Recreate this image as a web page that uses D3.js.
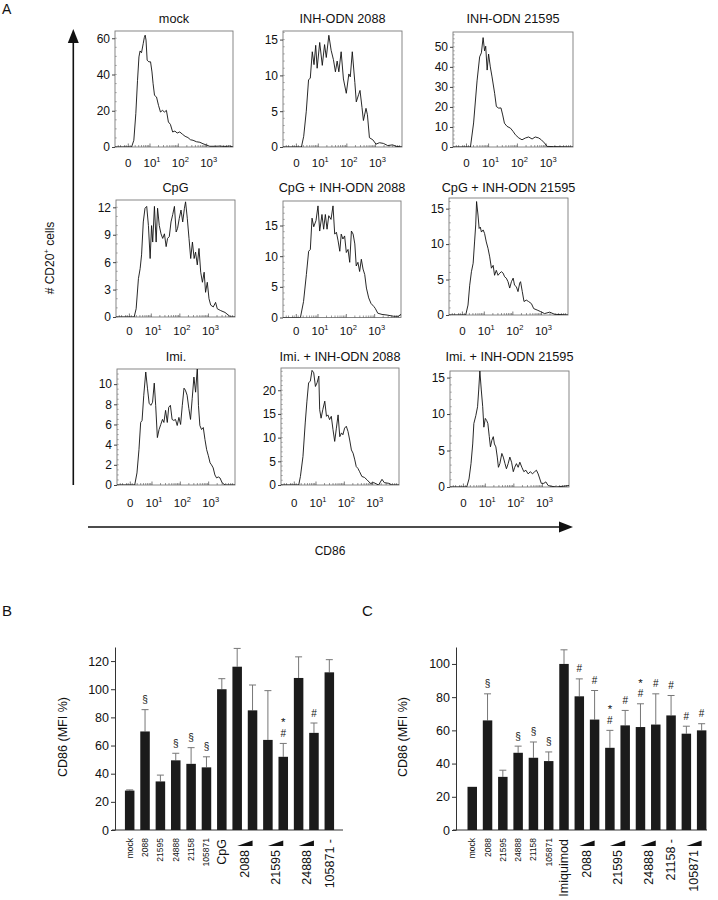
<!DOCTYPE html>
<html>
<head>
<meta charset="utf-8">
<script src="https://cdn.jsdelivr.net/npm/d3@7"></script>
<style>
  body { margin: 0; background: #fff; }
  text { font-family: "Liberation Sans", Arial, Helvetica, sans-serif; fill: #111; }
</style>
</head>
<body>
<svg id="fig" width="718" height="900"></svg>
<script>
// ---- panel A: CD86 histograms (x in decades of the logicle axis, y = cell count) ----
var histTitles = ["mock", "INH-ODN 2088", "INH-ODN 21595",
                  "CpG", "CpG + INH-ODN 2088", "CpG + INH-ODN 21595",
                  "Imi.", "Imi. + INH-ODN 2088", "Imi. + INH-ODN 21595"];

var mockX = [-0.235,0.35,0.43,0.5,0.56,0.61,0.65,0.7,0.76,0.8,0.83,0.86,0.9,0.96,1.02,1.07,1.11,1.16,1.23,1.3,1.37,1.44,1.51,1.58,1.65,1.72,1.8,1.88,1.96,2.05,2.15,2.24,2.34,2.43,2.52,2.64,2.76,2.87,2.99,3.11,3.29,3.46,3.64,3.81,3.93];
var mockY = [0,0,3.7,18.4,36.8,49.7,53,52,57,60.4,61.7,59,47.9,47,47,41.4,34.9,28.5,27.6,23,19.3,20.2,19.3,20.2,13.8,12.5,8.3,8.8,7.7,8.3,7,5.9,5.2,4,3.7,2.9,2.6,1.8,1.1,0.4,0.4,0.5,0.3,0.5,0];

var inh2088X = [-0.235,0.41,0.49,0.58,0.66,0.72,0.79,0.85,0.91,0.96,1.05,1.14,1.22,1.28,1.37,1.45,1.53,1.6,1.66,1.72,1.8,1.88,1.98,2.07,2.12,2.19,2.28,2.33,2.41,2.46,2.53,2.58,2.67,2.72,2.79,2.91,3.02,3.14,3.28,3.43,3.6,3.72,3.93];
var inh2088Y = [0,0,1.5,5,9.4,9.6,13.3,11.5,14.2,11,14.6,11.4,14.3,12.5,15.6,13.5,12.2,10.5,12,10.5,13.3,9.5,7.5,10.2,9.8,13.3,9,6.3,7.3,7.9,5.5,3.7,5.4,4.5,1.3,1,0.4,0.6,0.5,0.2,0.3,0.1,0];

var inh21595X = [-0.235,0.37,0.48,0.6,0.69,0.75,0.81,0.86,0.9,0.95,1.0,1.06,1.12,1.21,1.27,1.35,1.43,1.49,1.55,1.64,1.76,1.85,1.93,2.05,2.16,2.28,2.39,2.51,2.62,2.74,2.83,2.94,3.03,3.26,3.93];
var inh21595Y = [0,0,12,33,45,47,54.6,48,50.3,38.4,46.4,40,35,26.8,20.2,19.4,19.5,16,11.9,10.3,9.4,7.8,6.1,4.5,3.6,4.5,5,4,5,4.5,3.6,2,0.3,0.2,0];

var cpgX = [-0.235,0.4,0.47,0.55,0.61,0.66,0.72,0.78,0.84,0.9,0.96,1.01,1.05,1.11,1.17,1.22,1.28,1.34,1.4,1.46,1.52,1.57,1.63,1.69,1.75,1.81,1.87,1.92,1.98,2.04,2.1,2.16,2.2,2.26,2.32,2.38,2.44,2.5,2.55,2.61,2.67,2.73,2.79,2.85,2.9,2.96,3.02,3.08,3.17,3.25,3.31,3.43,3.58,3.7,3.78,3.93];
var cpgY = [0,0,0.9,4.2,5.3,6.8,10.4,11.9,12.1,10,6.4,10,8.2,12.1,8.2,11.9,10,9.1,8.6,9.1,7.7,8.6,8.8,10.4,11.2,12.1,9.3,9.7,10.8,11.7,10.4,11.9,12.6,10.8,8.6,6.4,8.2,6.4,7.1,5.7,7.5,4.9,3.8,4.9,2.7,3.8,2,1.3,1.1,1.6,0.9,0.7,0.5,0.2,0,0];

var cpg2088X = [-0.235,0.38,0.49,0.59,0.67,0.73,0.79,0.85,0.93,1.0,1.06,1.14,1.2,1.26,1.32,1.38,1.46,1.53,1.59,1.65,1.71,1.77,1.82,1.88,1.94,2.0,2.06,2.12,2.18,2.24,2.3,2.35,2.41,2.47,2.53,2.59,2.65,2.71,2.79,2.87,2.97,3.02,3.11,3.26,3.44,3.67,3.85,3.91,3.93];
var cpg2088Y = [0,0,2.6,7,10.8,11.1,16.2,14.8,15.8,18.2,14.1,16.8,14.4,16.8,14.4,16.6,16,18.2,13.6,13.9,12.5,10.8,13.6,12.8,13.3,10.6,11.1,9,14.1,13.6,12,8.4,9,7.5,9.5,7.9,7,4.8,3.2,2.3,1.8,1.5,0.7,0.5,0.4,0.2,0.2,0.5,0.3];

var cpg21595X = [-0.235,0.35,0.43,0.49,0.55,0.61,0.66,0.7,0.73,0.78,0.82,0.86,0.9,0.96,1.01,1.07,1.13,1.19,1.25,1.31,1.36,1.42,1.48,1.54,1.6,1.66,1.71,1.77,1.83,1.89,1.95,2.01,2.06,2.12,2.18,2.24,2.27,2.33,2.39,2.47,2.55,2.65,2.73,2.85,2.96,3.11,3.29,3.46,3.93];
var cpg21595Y = [0,0,1.4,4.2,6.1,7.3,10.3,12.7,16,14.1,12.2,12.4,11.7,12,11.5,10.3,9.4,8.2,6.6,7,5.6,6.3,5.6,5.9,6.1,5.9,5.4,5.2,4.7,3.8,4.7,5.2,4.2,4,3.3,4.5,4.7,3.3,1.9,2.1,1.9,1.6,0.9,0.7,0.5,0.2,0.4,0.1,0];

var imiX = [-0.235,0.39,0.47,0.54,0.6,0.65,0.71,0.78,0.84,0.9,0.96,1.02,1.08,1.13,1.19,1.25,1.31,1.37,1.42,1.48,1.54,1.59,1.65,1.71,1.77,1.83,1.89,1.95,2.01,2.07,2.13,2.18,2.24,2.3,2.36,2.42,2.48,2.54,2.6,2.64,2.69,2.75,2.81,2.87,2.93,2.99,3.05,3.1,3.16,3.22,3.28,3.34,3.4,3.48,3.58,3.93];
var imiY = [0,0,1.2,3.5,6.2,6.4,8.9,11.2,9.6,8.1,7.9,8.2,10.1,7.9,4.7,5.5,6,6.5,6.2,7.4,6.2,7.7,7.9,6.5,6.4,6.5,5.9,6.7,6,7.9,9.6,9.4,8.9,7.6,6.5,8.6,10.7,9.2,11.7,7.9,5.9,5.5,5.7,4.5,3.5,2.9,2.2,2,1.7,1,0.7,0.8,0.7,0.2,0,0];

var imi2088X = [-0.235,0.39,0.45,0.54,0.62,0.68,0.74,0.8,0.86,0.92,0.98,1.04,1.1,1.13,1.18,1.24,1.31,1.37,1.42,1.48,1.54,1.6,1.66,1.72,1.78,1.84,1.9,1.95,2.01,2.07,2.13,2.19,2.25,2.31,2.37,2.42,2.48,2.54,2.62,2.71,2.8,2.92,3.04,3.21,3.33,3.41,3.57,3.68,3.93];
var imi2088Y = [0,0,1.8,6,13.1,17.7,21.6,21.9,24.2,23.7,20.8,21.6,23,15.9,14.1,15.9,17.7,14.5,14.8,13.8,14.5,11.7,9.2,12,14.8,10.2,11,10.6,12,12.4,11.3,9.5,7.4,6.7,5.3,3.9,3.5,2.8,1.8,1.6,1.1,0.35,0.5,0,1.2,0.5,0.35,0,0];

var imi21595X = [-0.235,0.35,0.43,0.5,0.56,0.6,0.67,0.73,0.77,0.81,0.86,0.91,0.95,1.0,1.05,1.09,1.14,1.18,1.23,1.28,1.32,1.37,1.42,1.46,1.51,1.58,1.63,1.69,1.74,1.8,1.86,1.92,1.98,2.03,2.09,2.15,2.21,2.28,2.35,2.42,2.5,2.58,2.65,2.73,2.79,2.85,2.91,2.96,3.05,3.12,3.2,3.31,3.49,3.72,3.93];
var imi21595Y = [0,0,1.1,3.2,5.9,8.7,9.8,11,13.3,15.9,13.3,11,8.2,9.4,9.1,8.7,6.9,5.5,6.4,6.9,5.9,5.5,4.1,2.7,3.2,4.6,4.1,3.2,2.5,3.2,4.1,3.4,2.1,2.7,3.2,2.7,3.4,2.7,2.1,2.3,1.8,2.1,1.8,2.1,2.3,1.8,1.1,0.5,0.5,0.7,0.2,0.1,0,0.1,0.2];

var histYMax = [64, 16.2, 57.4, 12.8, 19, 16.5, 11.5, 24.7, 15.9];
var histYTicks = [[0,20,40,60],[0,5,10,15],[0,10,20,30,40,50],
                  [0,3,6,9,12],[0,5,10,15],[0,5,10,15],
                  [0,2,4,6,8,10],[0,5,10,15,20],[0,5,10,15]];
var histYMinor = [5, 1, 2, 1, 1, 1, 0.5, 1, 1];

var decTicks = [0.234, 1, 2, 3];
var decLabels = [["0", ""], ["10", "1"], ["10", "2"], ["10", "3"]];

// ---- panels B and C: CD86 MFI (% of stimulus) ----
var valsB = [28, 70, 34.5, 49.5, 47, 44.5, 100, 116, 85, 64, 52, 108, 69, 112];
var sdB   = [0.5, 15.5, 4.5, 5, 11.5, 7.5, 7.5, 13, 18, 35, 9.5, 15, 7, 9];
var marksB = ["", "§", "", "§", "§", "§", "", "", "", "", "#*", "", "#", ""];
var groupsB = [["CpG", 6, 6, false], ["2088", 7, 8, true], ["21595", 9, 10, true],
               ["24888", 11, 12, true], ["105871 -", 13, 13, false]];

var valsC = [26, 66, 32, 46.5, 43.5, 41.5, 100, 80.5, 66.5, 49.5, 63, 62, 63.5, 69, 58, 60];
var sdC   = [0, 16, 4, 4, 9.5, 5.5, 8.5, 10.5, 17.5, 10.5, 9, 14, 18.5, 12, 4.5, 4];
var marksC = ["", "§", "", "§", "§", "§", "", "#", "#", "#*", "#", "#*", "#", "#", "#", "#"];
var groupsC = [["Imiquimod", 6, 6, false], ["2088", 7, 8, true], ["21595", 9, 10, true],
               ["24888", 11, 12, true], ["21158 -", 13, 13, false], ["105871", 14, 15, true]];

var singleLabels = ["mock", "2088", "21595", "24888", "21158", "105871"];

var svg = d3.select("#fig");

// layout of the 3x3 histogram grid
var histBoxes = [
  {L: 115, R: 233, T: 31,  B: 147},
  {L: 283, R: 402, T: 31,  B: 147},
  {L: 453, R: 573, T: 32,  B: 147},
  {L: 116, R: 235, T: 200, B: 317},
  {L: 283, R: 401, T: 201, B: 317.5},
  {L: 449, R: 568, T: 198, B: 315},
  {L: 117, R: 235, T: 369, B: 485},
  {L: 281, R: 399, T: 368, B: 485},
  {L: 450, R: 569, T: 371, B: 487}
];
var histSeries = [[mockX, mockY], [inh2088X, inh2088Y], [inh21595X, inh21595Y],
                  [cpgX, cpgY], [cpg2088X, cpg2088Y], [cpg21595X, cpg21595Y],
                  [imiX, imiY], [imi2088X, imi2088Y], [imi21595X, imi21595Y]];
var titleY = [23, 192, 361];
var tickLabelY = [167, 335, 507];

var defs = svg.append("defs");

histBoxes.forEach(function(b, i) {
  var g = svg.append("g");
  var x = d3.scaleLinear().domain([-0.235, 3.93]).range([b.L, b.R]);
  var y = d3.scaleLinear().domain([0, histYMax[i]]).range([b.B, b.T]);

  defs.append("clipPath").attr("id", "clip" + i)
    .append("rect").attr("x", b.L).attr("y", b.T).attr("width", b.R - b.L).attr("height", b.B - b.T);

  g.append("rect")
    .attr("x", b.L).attr("y", b.T)
    .attr("width", b.R - b.L).attr("height", b.B - b.T)
    .attr("fill", "none").attr("stroke", "#7a7a7a").attr("stroke-width", 0.9);

  // minor ticks along bottom (log decades) and left edge
  var minorX = [];
  [0, 1, 2, 3].forEach(function(dec) {
    for (var k = 2; k <= 9; k++) {
      var v = dec + Math.log10(k);
      if (v > 0.3 && v < 3.9) minorX.push(v);
    }
  });
  minorX = minorX.concat([-0.12, -0.04, 0.1, 0.16]);
  g.selectAll(".mx").data(minorX).enter().append("line")
    .attr("x1", function(d) { return x(d); }).attr("x2", function(d) { return x(d); })
    .attr("y1", b.B).attr("y2", b.B - 2)
    .attr("stroke", "#555").attr("stroke-width", 0.6);
  g.selectAll(".Mx").data(decTicks).enter().append("line")
    .attr("x1", function(d) { return x(d); }).attr("x2", function(d) { return x(d); })
    .attr("y1", b.B).attr("y2", b.B - 3.5)
    .attr("stroke", "#444").attr("stroke-width", 0.7);

  var minorY = d3.range(0, histYMax[i], histYMinor[i]);
  g.selectAll(".my").data(minorY).enter().append("line")
    .attr("x1", b.L).attr("x2", b.L + 1.8)
    .attr("y1", function(d) { return y(d); }).attr("y2", function(d) { return y(d); })
    .attr("stroke", "#666").attr("stroke-width", 0.5);

  var yAxis = g.append("g")
    .attr("transform", "translate(" + b.L + ",0)")
    .call(d3.axisLeft(y).tickValues(histYTicks[i]).tickSize(3).tickSizeOuter(0).tickFormat(d3.format("d")));
  yAxis.select(".domain").remove();
  yAxis.selectAll("line").attr("stroke", "#444");
  yAxis.selectAll("text").attr("font-size", 12).attr("x", -5)
    .style("font-family", '"Liberation Sans", Arial, sans-serif').attr("fill", "#111");

  // decade labels 0, 10^1, 10^2, 10^3
  var row = Math.floor(i / 3);
  decTicks.forEach(function(d, k) {
    var t = g.append("text")
      .attr("x", x(d) + (k === 0 ? 0 : 2)).attr("y", tickLabelY[row])
      .attr("text-anchor", "middle").attr("font-size", 11.5);
    t.append("tspan").text(decLabels[k][0]);
    if (decLabels[k][1]) {
      t.append("tspan").attr("font-size", 7.5).attr("dy", -5).text(decLabels[k][1]);
    }
  });

  var pts = d3.zip(histSeries[i][0], histSeries[i][1]);
  g.append("path")
    .datum(pts)
    .attr("clip-path", "url(#clip" + i + ")")
    .attr("fill", "none").attr("stroke", "#111").attr("stroke-width", 0.9)
    .attr("stroke-linejoin", "round")
    .attr("d", d3.line().x(function(d) { return x(d[0]); }).y(function(d) { return y(d[1]); }));

  g.append("text")
    .attr("x", (b.L + b.R) / 2).attr("y", titleY[row])
    .attr("text-anchor", "middle").attr("font-size", 12.7)
    .text(histTitles[i]);
});

// axis arrows of panel A
svg.append("line").attr("x1", 73.3).attr("x2", 73.3).attr("y1", 485).attr("y2", 40)
  .attr("stroke", "#111").attr("stroke-width", 1.6);
svg.append("path").attr("d", "M73.3,29 L67.8,43 L78.8,43 Z").attr("fill", "#111");
svg.append("line").attr("x1", 88).attr("x2", 562).attr("y1", 527).attr("y2", 527)
  .attr("stroke", "#111").attr("stroke-width", 1.6);
svg.append("path").attr("d", "M573,527 L559,521.5 L559,532.5 Z").attr("fill", "#111");

var ylab = svg.append("text")
  .attr("transform", "translate(54,258) rotate(-90)")
  .attr("text-anchor", "middle").attr("font-size", 12);
ylab.append("tspan").text("# CD20");
ylab.append("tspan").attr("font-size", 8).attr("dy", -5).text("+");
ylab.append("tspan").attr("dy", 5).text(" cells");

svg.append("text").attr("x", 330).attr("y", 555).attr("text-anchor", "middle")
  .attr("font-size", 12).text("CD86");

svg.append("text").attr("x", 2).attr("y", 14).attr("font-size", 14).text("A");
svg.append("text").attr("x", 2).attr("y", 616).attr("font-size", 15).text("B");
svg.append("text").attr("x", 362).attr("y", 616).attr("font-size", 15).text("C");

// ---- bar charts ----
function drawBars(cfg) {
  var g = svg.append("g");
  var n = cfg.vals.length;
  var x = d3.scaleBand().domain(d3.range(n)).range([cfg.x0, cfg.x1])
    .paddingInner(0.38).paddingOuter(0.19);
  var y = d3.scaleLinear().domain([0, cfg.ymax]).range([830, 647]);
  var bw = x.bandwidth();

  var yAxis = g.append("g")
    .attr("transform", "translate(" + cfg.axisX + ",0)")
    .call(d3.axisLeft(y).tickValues(cfg.ticks).tickSize(4).tickSizeOuter(0));
  yAxis.select(".domain").attr("stroke", "#333");
  yAxis.selectAll("line").attr("stroke", "#333");
  yAxis.selectAll("text").attr("font-size", 12.5).attr("x", -6)
    .style("font-family", '"Liberation Sans", Arial, sans-serif').attr("fill", "#111");

  g.append("line").attr("x1", cfg.axisX - 3).attr("x2", cfg.axisEnd)
    .attr("y1", y(0)).attr("y2", y(0)).attr("stroke", "#333").attr("stroke-width", 1);

  // error bars (upper only)
  g.selectAll(".err").data(cfg.vals).enter().append("path")
    .attr("d", function(d, i) {
      var cx = x(i) + bw / 2, top = y(d + cfg.sd[i]);
      if (cfg.sd[i] === 0) return "";
      return "M" + cx + "," + y(d) + "V" + top + "M" + (cx - 3.5) + "," + top + "H" + (cx + 3.5);
    })
    .attr("stroke", "#777").attr("stroke-width", 1).attr("fill", "none");

  g.selectAll(".bar").data(cfg.vals).enter().append("rect")
    .attr("x", function(d, i) { return x(i); })
    .attr("y", function(d) { return y(d); })
    .attr("width", bw)
    .attr("height", function(d) { return y(0) - y(d); })
    .attr("fill", "#1b1b1b");

  // significance marks, stacked upwards
  cfg.marks.forEach(function(m, i) {
    var top = y(cfg.vals[i] + cfg.sd[i]);
    m.split("").forEach(function(ch, k) {
      g.append("text")
        .attr("x", x(i) + bw / 2)
        .attr("y", top - 10 - 12 * k + (ch === "*" ? 5 : 3.5))
        .attr("text-anchor", "middle")
        .attr("font-size", ch === "*" ? 11.5 : 10)
        .attr("fill", ch === "*" ? "#111" : "#555")
        .text(ch);
    });
  });

  // small single-agent labels
  singleLabels.forEach(function(s, i) {
    g.append("text")
      .attr("transform", "translate(" + (x(i) + bw / 2) + ",838) rotate(-90)")
      .attr("text-anchor", "end").attr("dy", "0.35em")
      .attr("font-size", 8.5).text(s);
  });

  // larger group labels with dose wedges
  cfg.groups.forEach(function(gr) {
    var c0 = x(gr[1]) + bw / 2, c1 = x(gr[2]) + bw / 2;
    var cx = (c0 + c1) / 2;
    if (gr[3]) {
      g.append("path")
        .attr("d", "M" + c0 + ",846L" + c1 + ",846L" + c1 + ",840.5Z")
        .attr("fill", "#111");
    }
    g.append("text")
      .attr("transform", "translate(" + cx + "," + (gr[3] ? 850 : 839) + ") rotate(-90)")
      .attr("text-anchor", "end").attr("dy", "0.35em")
      .attr("font-size", 12.5).text(gr[0]);
  });

  g.append("text")
    .attr("transform", "translate(" + cfg.labelX + ",737) rotate(-90)")
    .attr("text-anchor", "middle").attr("font-size", 12.5)
    .text("CD86 (MFI %)");
}

drawBars({vals: valsB, sd: sdB, marks: marksB, groups: groupsB,
          x0: 122, x1: 337, axisX: 115, axisEnd: 343, ymax: 130,
          ticks: [0, 20, 40, 60, 80, 100, 120], labelX: 67});
drawBars({vals: valsC, sd: sdC, marks: marksC, groups: groupsC,
          x0: 464.6, x1: 709.3, axisX: 456, axisEnd: 707, ymax: 110.2,
          ticks: [0, 20, 40, 60, 80, 100], labelX: 407});
</script>
</body>
</html>
